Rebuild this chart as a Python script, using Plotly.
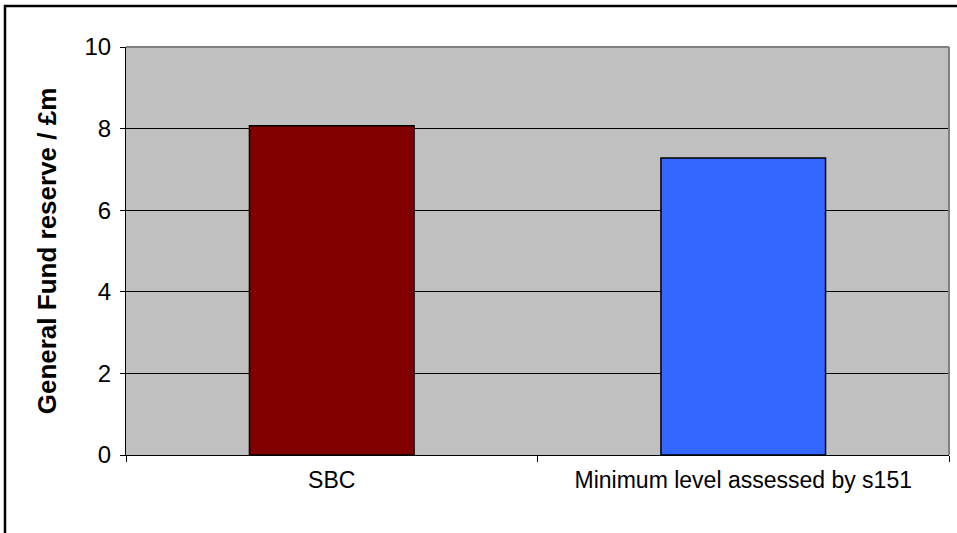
import plotly.graph_objects as go

categories = ["SBC", "Minimum level assessed by s151"]
values = [8.07, 7.28]
bar_colors = ["#800000", "#3366FF"]
y_ticks = [0, 2, 4, 6, 8, 10]

W, H = 957, 533
L, R, T, B = 126, 8, 47, 78
pw, ph = W - L - R, H - T - B

fig = go.Figure(go.Bar(
    x=categories, y=values, width=0.4,
    marker=dict(color=bar_colors, line=dict(color="black", width=1.5)),
))

fig.update_layout(
    width=W, height=H,
    margin=dict(l=L, r=R, t=T, b=B, pad=0),
    paper_bgcolor="white", plot_bgcolor="#C0C0C0",
    showlegend=False,
    font=dict(family="Liberation Sans, Arial, sans-serif", size=23, color="black"),
    bargap=0.6,
)
fig.update_xaxes(
    showline=True, linecolor="black", linewidth=1,
    ticks="outside", tickson="boundaries", ticklen=6, tickcolor="black",
    showgrid=False, tickfont=dict(size=23), ticklabelstandoff=4,
)
fig.update_yaxes(
    range=[0, 10], tickvals=y_ticks,
    showline=True, linecolor="black", linewidth=1,
    ticks="outside", ticklen=5, tickcolor="black",
    showgrid=True, gridcolor="black", gridwidth=1,
    zeroline=False, tickfont=dict(size=24), ticklabelstandoff=4,
    title=dict(text="<b>General Fund reserve / £m</b>", font=dict(size=26), standoff=20),
)

shapes = [
    dict(type="line", xref="paper", yref="paper", x0=0, x1=1, y0=1, y1=1,
         line=dict(color="#808080", width=2)),
    dict(type="line", xref="paper", yref="paper", x0=1, x1=1, y0=0, y1=1,
         line=dict(color="#808080", width=2)),
    dict(type="rect", xref="paper", yref="paper",
         x0=(5 - L) / pw, x1=1.2, y0=-0.5, y1=1 + (T - 6) / ph,
         line=dict(color="black", width=2.5)),
]
fig.update_layout(shapes=shapes)

fig.write_html("out.html")
